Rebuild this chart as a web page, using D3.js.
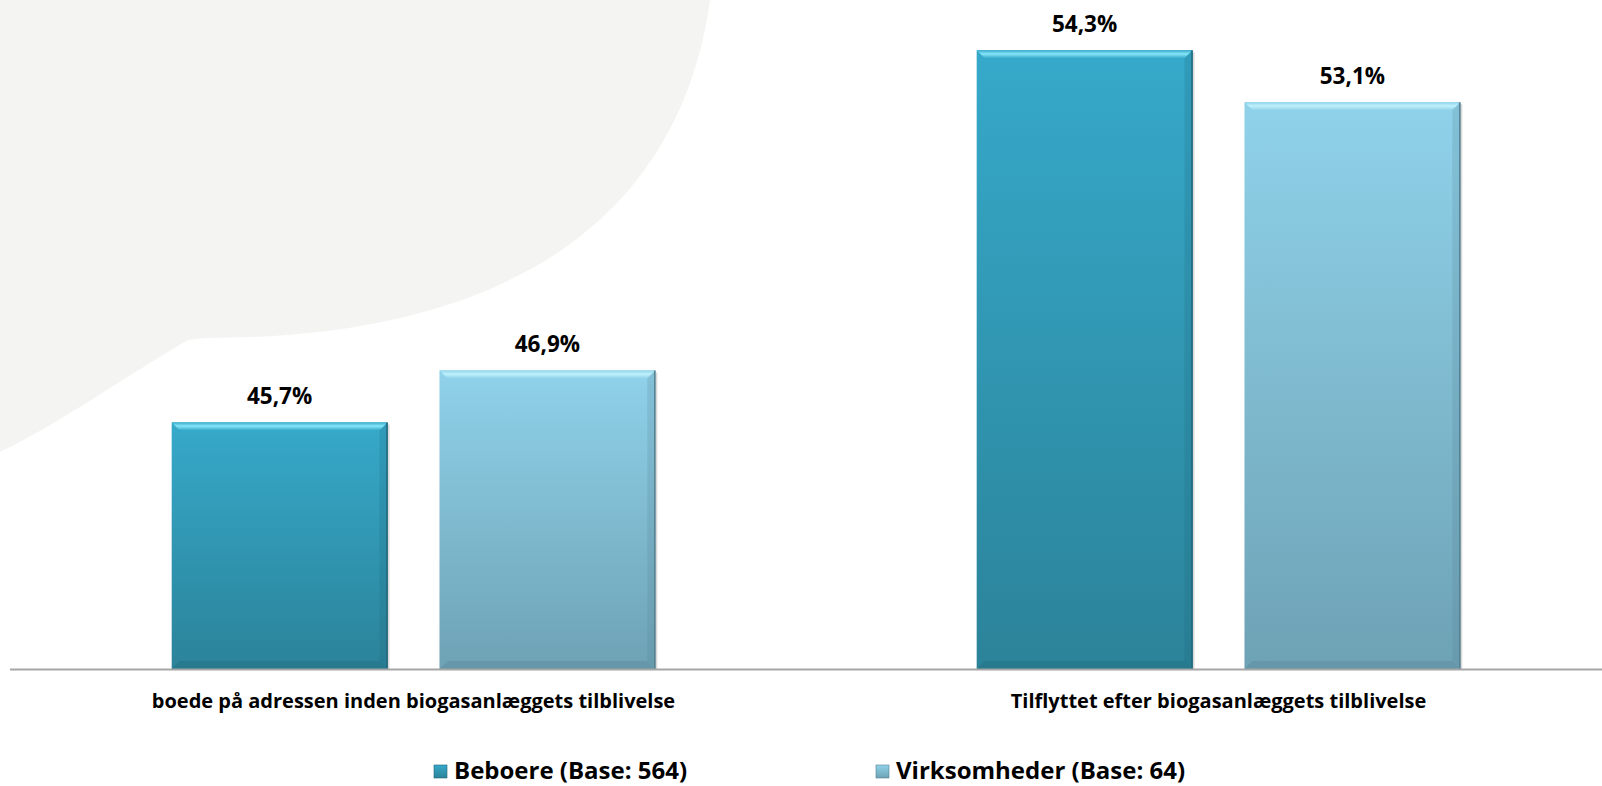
<!DOCTYPE html>
<html>
<head>
<meta charset="utf-8">
<script src="https://cdn.jsdelivr.net/npm/d3@7"></script>
<style>
  html, body { margin: 0; padding: 0; background: #fff; }
  svg { display: block; font-family: "Open Sans", Lato, sans-serif; }
</style>
</head>
<body>
<svg width="1602" height="786"></svg>
<script>
var categories = ["boede på adressen inden biogasanlæggets tilblivelse", "Tilflyttet efter biogasanlæggets tilblivelse"];
var seriesNames = ["Beboere (Base: 564)", "Virksomheder (Base: 64)"];
var beboere = [45.7, 54.3];
var virksomheder = [46.9, 53.1];
var yDomain = [40, 55];

var svg = d3.select("svg"),
  width = +svg.attr("width"),
  height = +svg.attr("height");

// series colours: top, bottom, bevel highlight, edge
var palette = [
  {top: "#36a9ca", bottom: "#2b8399", light: "#86e6f8", dark: "#1f6578"},
  {top: "#8fd2ea", bottom: "#6ea2b5", light: "#c0f1fb", dark: "#557f8f"}
];

var data = categories.map(function(c, i) {
  return {category: c, values: [beboere[i], virksomheder[i]]};
});

// background blob
svg.append("path")
  .attr("d", "M0,0 H710 C684,190 545,338 205,338 L188,340 C120,380 60,423 0,452 Z")
  .attr("fill", "#f4f4f2");

var defs = svg.append("defs");
palette.forEach(function(p, i) {
  var g = defs.append("linearGradient")
    .attr("id", "grad" + i)
    .attr("x1", 0).attr("y1", 0).attr("x2", 0).attr("y2", 1);
  g.append("stop").attr("offset", "0%").attr("stop-color", p.top);
  g.append("stop").attr("offset", "100%").attr("stop-color", p.bottom);
  var b = defs.append("linearGradient")
    .attr("id", "bevel" + i)
    .attr("x1", 0).attr("y1", 0).attr("x2", 0).attr("y2", 1);
  b.append("stop").attr("offset", "0%").attr("stop-color", p.top);
  b.append("stop").attr("offset", "45%").attr("stop-color", p.light);
  b.append("stop").attr("offset", "100%").attr("stop-color", p.top);
});

var x = d3.scaleBand().domain(categories).range([11, 1621]);
var xs = d3.scaleBand().domain([0, 1]).range([0, x.bandwidth()])
  .paddingInner(0.194).paddingOuter(0.6);
var y = d3.scaleLinear().domain(yDomain).range([669, 20]);

var groups = svg.selectAll(".group")
  .data(data)
  .enter().append("g")
  .attr("class", "group")
  .attr("transform", function(d) { return "translate(" + x(d.category) + ",0)"; });

var bars = groups.selectAll(".bar")
  .data(function(d) { return d.values.map(function(v, i) { return {v: v, s: i}; }); })
  .enter().append("g")
  .attr("class", "bar");

var bev = 8;

// soft shadow on right
bars.append("rect")
  .attr("x", function(d) { return xs(d.s) + 2; })
  .attr("y", function(d) { return y(d.v) + 2; })
  .attr("width", xs.bandwidth())
  .attr("height", function(d) { return y(yDomain[0]) - y(d.v) - 1; })
  .attr("fill", "#000")
  .attr("opacity", 0.15);

bars.append("rect")
  .attr("x", function(d) { return xs(d.s); })
  .attr("y", function(d) { return y(d.v); })
  .attr("width", xs.bandwidth())
  .attr("height", function(d) { return y(yDomain[0]) - y(d.v); })
  .attr("fill", function(d) { return "url(#grad" + d.s + ")"; });

// top bevel
bars.append("path")
  .attr("d", function(d) {
    var x0 = xs(d.s), x1 = x0 + xs.bandwidth(), t = y(d.v);
    return "M" + x0 + "," + t + "H" + x1 + "L" + (x1 - bev) + "," + (t + bev) +
      "H" + (x0 + bev) + "Z";
  })
  .attr("fill", function(d) { return "url(#bevel" + d.s + ")"; });

// right bevel
bars.append("path")
  .attr("d", function(d) {
    var x1 = xs(d.s) + xs.bandwidth(), t = y(d.v), b = y(yDomain[0]);
    return "M" + x1 + "," + t + "V" + b + "L" + (x1 - bev) + "," + (b - bev) +
      "V" + (t + bev) + "Z";
  })
  .attr("fill", function(d) { return palette[d.s].dark; })
  .attr("opacity", 0.2);

// bottom bevel
bars.append("path")
  .attr("d", function(d) {
    var x0 = xs(d.s), x1 = x0 + xs.bandwidth(), b = y(yDomain[0]);
    return "M" + x0 + "," + b + "H" + x1 + "L" + (x1 - bev) + "," + (b - bev) +
      "H" + (x0 + bev) + "Z";
  })
  .attr("fill", function(d) { return palette[d.s].dark; })
  .attr("opacity", 0.3);

// dark right edge
bars.append("line")
  .attr("x1", function(d) { return xs(d.s) + xs.bandwidth() - 0.5; })
  .attr("x2", function(d) { return xs(d.s) + xs.bandwidth() - 0.5; })
  .attr("y1", function(d) { return y(d.v); })
  .attr("y2", y(yDomain[0]))
  .attr("stroke", function(d) { return palette[d.s].dark; })
  .attr("stroke-width", 1.5);

// value labels
bars.append("text")
  .attr("x", function(d) { return xs(d.s) + xs.bandwidth() / 2; })
  .attr("y", function(d) { return y(d.v) - 26; })
  .attr("dy", "0.35em")
  .attr("text-anchor", "middle")
  .attr("font-size", 22.5)
  .attr("font-weight", "bold")
  .attr("fill", "#000")
  .text(function(d) { return d3.format(".1f")(d.v).replace(".", ",") + "%"; });

// x axis
var axis = svg.append("g")
  .attr("transform", "translate(0," + y(yDomain[0]) + ")")
  .call(d3.axisBottom(x).tickSize(0).tickPadding(0));
axis.select(".domain").remove();
axis.append("line")
  .attr("x1", 10).attr("x2", width)
  .attr("y1", 0.5).attr("y2", 0.5)
  .attr("stroke", "#a6a6a6")
  .attr("stroke-width", 2);
axis.selectAll(".tick text")
  .attr("y", 32)
  .attr("dy", "0.35em")
  .attr("font-size", 20)
  .attr("font-weight", "bold")
  .attr("font-family", "'Open Sans', Lato, sans-serif")
  .attr("fill", "#000");

// legend
var legendX = [434, 876];
var legend = svg.selectAll(".legend")
  .data(seriesNames)
  .enter().append("g")
  .attr("class", "legend")
  .attr("transform", function(d, i) { return "translate(" + legendX[i] + ",765)"; });
legend.append("rect")
  .attr("width", 13).attr("height", 13)
  .attr("fill", function(d, i) { return "url(#grad" + i + ")"; })
  .attr("stroke", function(d, i) { return palette[i].dark; })
  .attr("stroke-width", 0.6);
legend.append("text")
  .attr("x", 20)
  .attr("y", 6)
  .attr("dy", "0.35em")
  .attr("font-size", 24)
  .attr("font-weight", "bold")
  .attr("fill", "#000")
  .text(function(d) { return d; });
</script>
</body>
</html>
